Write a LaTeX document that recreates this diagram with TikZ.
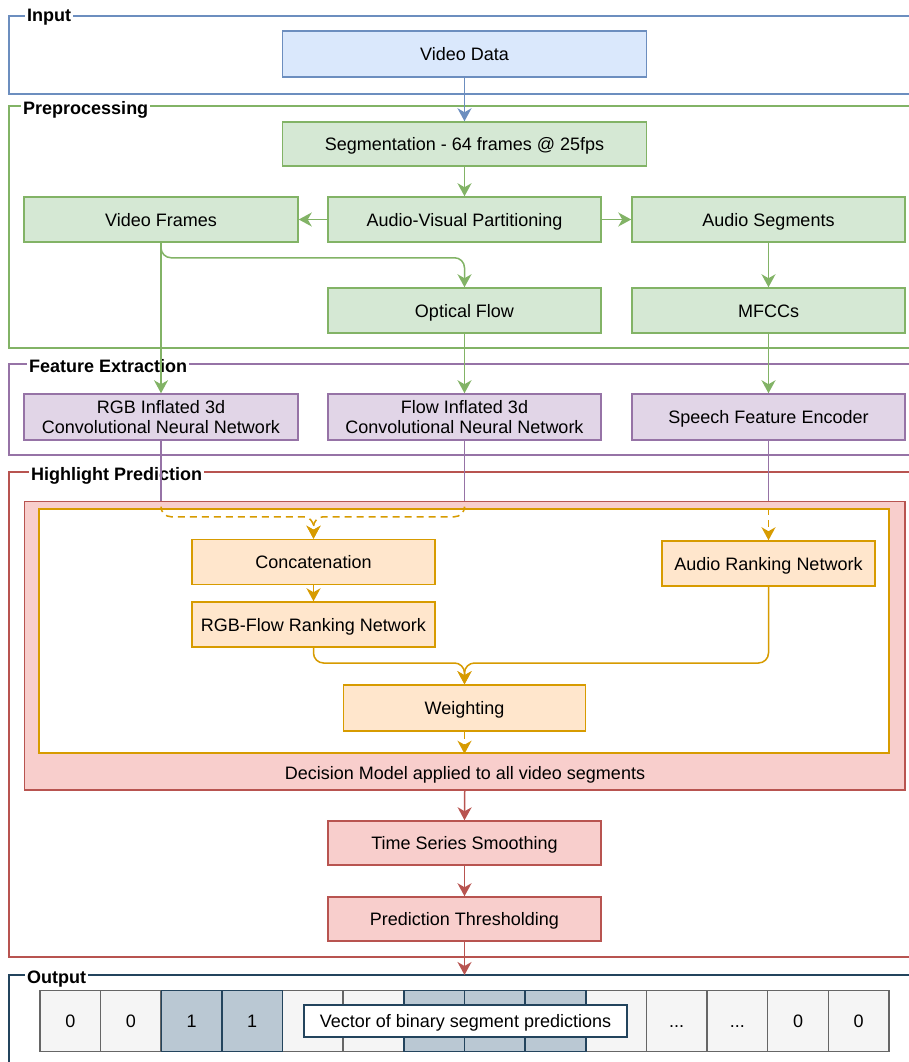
\documentclass[tikz,border=0pt]{standalone}
\usepackage{fontspec}
\setmainfont{Liberation Sans}
\usetikzlibrary{arrows.meta}
\definecolor{dioBlueFill}{HTML}{DAE8FC}
\definecolor{dioBlueLine}{HTML}{6C8EBF}
\definecolor{dioGreenFill}{HTML}{D5E8D4}
\definecolor{dioGreenLine}{HTML}{82B366}
\definecolor{dioPurpleFill}{HTML}{E1D5E7}
\definecolor{dioPurpleLine}{HTML}{9673A6}
\definecolor{dioOrangeFill}{HTML}{FFE6CC}
\definecolor{dioOrangeLine}{HTML}{D79B00}
\definecolor{dioRedFill}{HTML}{F8CECC}
\definecolor{dioRedLine}{HTML}{B85450}
\definecolor{dioGreyFill}{HTML}{F5F5F5}
\definecolor{dioGreyLine}{HTML}{666666}
\definecolor{dioSlateFill}{HTML}{BAC8D3}
\definecolor{dioSlateLine}{HTML}{23445D}
\begin{document}
\begin{tikzpicture}[x=1pt, y=-1pt,
  box/.style={draw, line width=\dioLineWidth, inner sep=0pt, align=center, font=\fontsize{18}{20.5}\selectfont},
  onerow/.style={text height=13pt, text depth=0pt},
  bluebox/.style={box, onerow, fill=dioBlueFill, draw=dioBlueLine},
  greenbox/.style={box, onerow, fill=dioGreenFill, draw=dioGreenLine},
  purplebox/.style={box, fill=dioPurpleFill, draw=dioPurpleLine},
  orangebox/.style={box, onerow, fill=dioOrangeFill, draw=dioOrangeLine},
  redbox/.style={box, onerow, fill=dioRedFill, draw=dioRedLine},
  cell/.style={box, onerow, fill=dioGreyFill, draw=dioGreyLine, minimum width=60.64, minimum height=61},
  hicell/.style={cell, fill=dioSlateFill, draw=dioSlateLine},
  grouplabel/.style={anchor=base west, fill=white, inner xsep=2pt, inner ysep=3pt, font=\bfseries\fontsize{18}{21}\selectfont},
  flow/.style={line width=\dioLineWidth, rounded corners=10pt, -{Stealth[length=13pt, width=14pt, inset=4pt]}},
  link/.style={line width=\dioLineWidth},
  dashflow/.style={flow, dash pattern=on 7pt off 5pt}]
% Diagram redrawn from draw.io, coordinates in px (y down)
\providecommand{\dioLineWidth}{1.5pt}
\providecommand{\dioFrameRight}{915}
\useasboundingbox (0,0) rectangle (909,1062);

% Group frames (open to the right)
\draw[dioBlueLine, line width=\dioLineWidth] (\dioFrameRight,16) -| (9,94) -- (\dioFrameRight,94);
\draw[dioGreenLine, line width=\dioLineWidth] (\dioFrameRight,106) -| (9,348) -- (\dioFrameRight,348);
\draw[dioPurpleLine, line width=\dioLineWidth] (\dioFrameRight,364) -| (9,455) -- (\dioFrameRight,455);
\draw[dioRedLine, line width=\dioLineWidth] (\dioFrameRight,472) -| (9,957) -- (\dioFrameRight,957);
\draw[dioSlateLine, line width=\dioLineWidth] (\dioFrameRight,975) -| (9,1070);
\node[grouplabel] (lblinput) at (25,22) {Input};
\node[grouplabel] (lblpre) at (21,114) {Preprocessing};
\node[grouplabel] (lblfeat) at (27,372.5) {Feature Extraction};
\node[grouplabel] (lblhigh) at (29,480) {Highlight Prediction};
\node[grouplabel] (lblout) at (25,983) {Output};

% Input and preprocessing
\node[bluebox, minimum width=364, minimum height=46] (vdata) at (464.5,54) {Video Data};
\node[greenbox, minimum width=364, minimum height=44] (seg) at (464.5,144) {Segmentation - 64 frames @ 25fps};
\node[greenbox, minimum width=274, minimum height=45] (vframes) at (161,219.5) {Video Frames};
\node[greenbox, minimum width=273, minimum height=45] (avp) at (464.5,219.5) {Audio-Visual Partitioning};
\node[greenbox, minimum width=273, minimum height=45] (aseg) at (768.5,219.5) {Audio Segments};
\node[greenbox, minimum width=273, minimum height=45] (oflow) at (464.5,310.5) {Optical Flow};
\node[greenbox, minimum width=273, minimum height=45] (mfcc) at (768.5,310.5) {MFCCs};

% Feature extraction
\node[purplebox, minimum width=274, minimum height=46] (rgb) at (161,417) {RGB Inflated 3d\\Convolutional Neural Network};
\node[purplebox, minimum width=273, minimum height=46] (flow3d) at (464.5,417) {Flow Inflated 3d\\Convolutional Neural Network};
\node[purplebox, onerow, minimum width=273, minimum height=46] (speech) at (768.5,417) {Speech Feature Encoder};

% Highlight prediction
\node[redbox, minimum width=880.5, minimum height=288.5] (decision) at (464.75,645.75) {};
\node[box, fill=white, draw=dioOrangeLine, minimum width=850, minimum height=244] (inner) at (464,631) {};
\node[anchor=base, font=\fontsize{18}{21}\selectfont] (decisiontxt) at (465,779.5) {Decision Model applied to all video segments};
\node[orangebox, minimum width=243, minimum height=45] (concat) at (313.5,562) {Concatenation};
\node[orangebox, minimum width=243, minimum height=45] (rfrank) at (313.5,624.5) {RGB-Flow Ranking Network};
\node[orangebox, minimum width=213, minimum height=45] (arank) at (768.5,563.5) {Audio Ranking Network};
\node[orangebox, minimum width=242, minimum height=46] (weight) at (464.5,708) {Weighting};
\node[redbox, minimum width=273, minimum height=44] (tss) at (464.5,843) {Time Series Smoothing};
\node[redbox, minimum width=273, minimum height=44] (pthr) at (464.5,919) {Prediction Thresholding};
\coordinate (merge) at (464.5,663);
\coordinate (outtop) at (464.5,975);

% Output vector
\node[cell] (c1) at (70.3,1021) {0};
\node[cell] (c2) at (130.9,1021) {0};
\node[cell] (c5) at (312.9,1021) {};
\node[cell] (c6) at (373.5,1021) {};
\node[cell] (c10) at (616.1,1021) {};
\node[cell] (c11) at (676.7,1021) {...};
\node[cell] (c12) at (737.4,1021) {...};
\node[cell] (c13) at (798.0,1021) {0};
\node[cell] (c14) at (858.7,1021) {0};
\node[hicell] (c3) at (191.6,1021) {1};
\node[hicell] (c4) at (252.2,1021) {1};
\node[hicell] (c7) at (434.2,1021) {};
\node[hicell] (c8) at (494.8,1021) {};
\node[hicell] (c9) at (555.5,1021) {};
\node[box, onerow, fill=white, draw=dioSlateLine, minimum width=323, minimum height=32] (vecname) at (465.5,1021) {Vector of binary segment predictions};

% Connectors
\draw[flow, dioBlueLine] (vdata) -- (seg);
\draw[flow, dioGreenLine] (seg) -- (avp);
\draw[flow, dioGreenLine] (avp) -- (vframes);
\draw[flow, dioGreenLine] (avp) -- (aseg);
\draw[flow, dioGreenLine] (vframes.south) -- ++(0,15) -| (oflow.north);
\draw[flow, dioGreenLine] (vframes) -- (rgb);
\draw[flow, dioGreenLine] (aseg) -- (mfcc);
\draw[flow, dioGreenLine] (oflow) -- (flow3d);
\draw[flow, dioGreenLine] (mfcc) -- (speech);
\draw[link, dioPurpleLine] (rgb.south) -- (rgb.south |- decision.north);
\draw[link, dioPurpleLine] (flow3d.south) -- (flow3d.south |- decision.north);
\draw[link, dioPurpleLine] (speech.south) -- (speech.south |- decision.north);
\draw[dashflow, dioOrangeLine] (rgb.south |- inner.north) -- ++(0,8.5) -| (concat.north);
\draw[dashflow, dioOrangeLine] (flow3d.south |- inner.north) -- ++(0,8.5) -| (concat.north);
\draw[dashflow, dioOrangeLine] (speech.south |- inner.north) -- (arank.north);
\draw[flow, dioOrangeLine] (concat) -- (rfrank);
\draw[flow, dioOrangeLine] (rfrank.south) |- (merge) -- (weight.north);
\draw[flow, dioOrangeLine] (arank.south) |- (merge) -- (weight.north);
\draw[dashflow, dioOrangeLine] (weight.south) -- (weight.south |- inner.south);
\draw[flow, dioRedLine] (decision.south) -- (tss.north);
\draw[flow, dioRedLine] (tss) -- (pthr);
\draw[flow, dioRedLine] (pthr.south) -- (outtop);
\end{tikzpicture}
\end{document}
